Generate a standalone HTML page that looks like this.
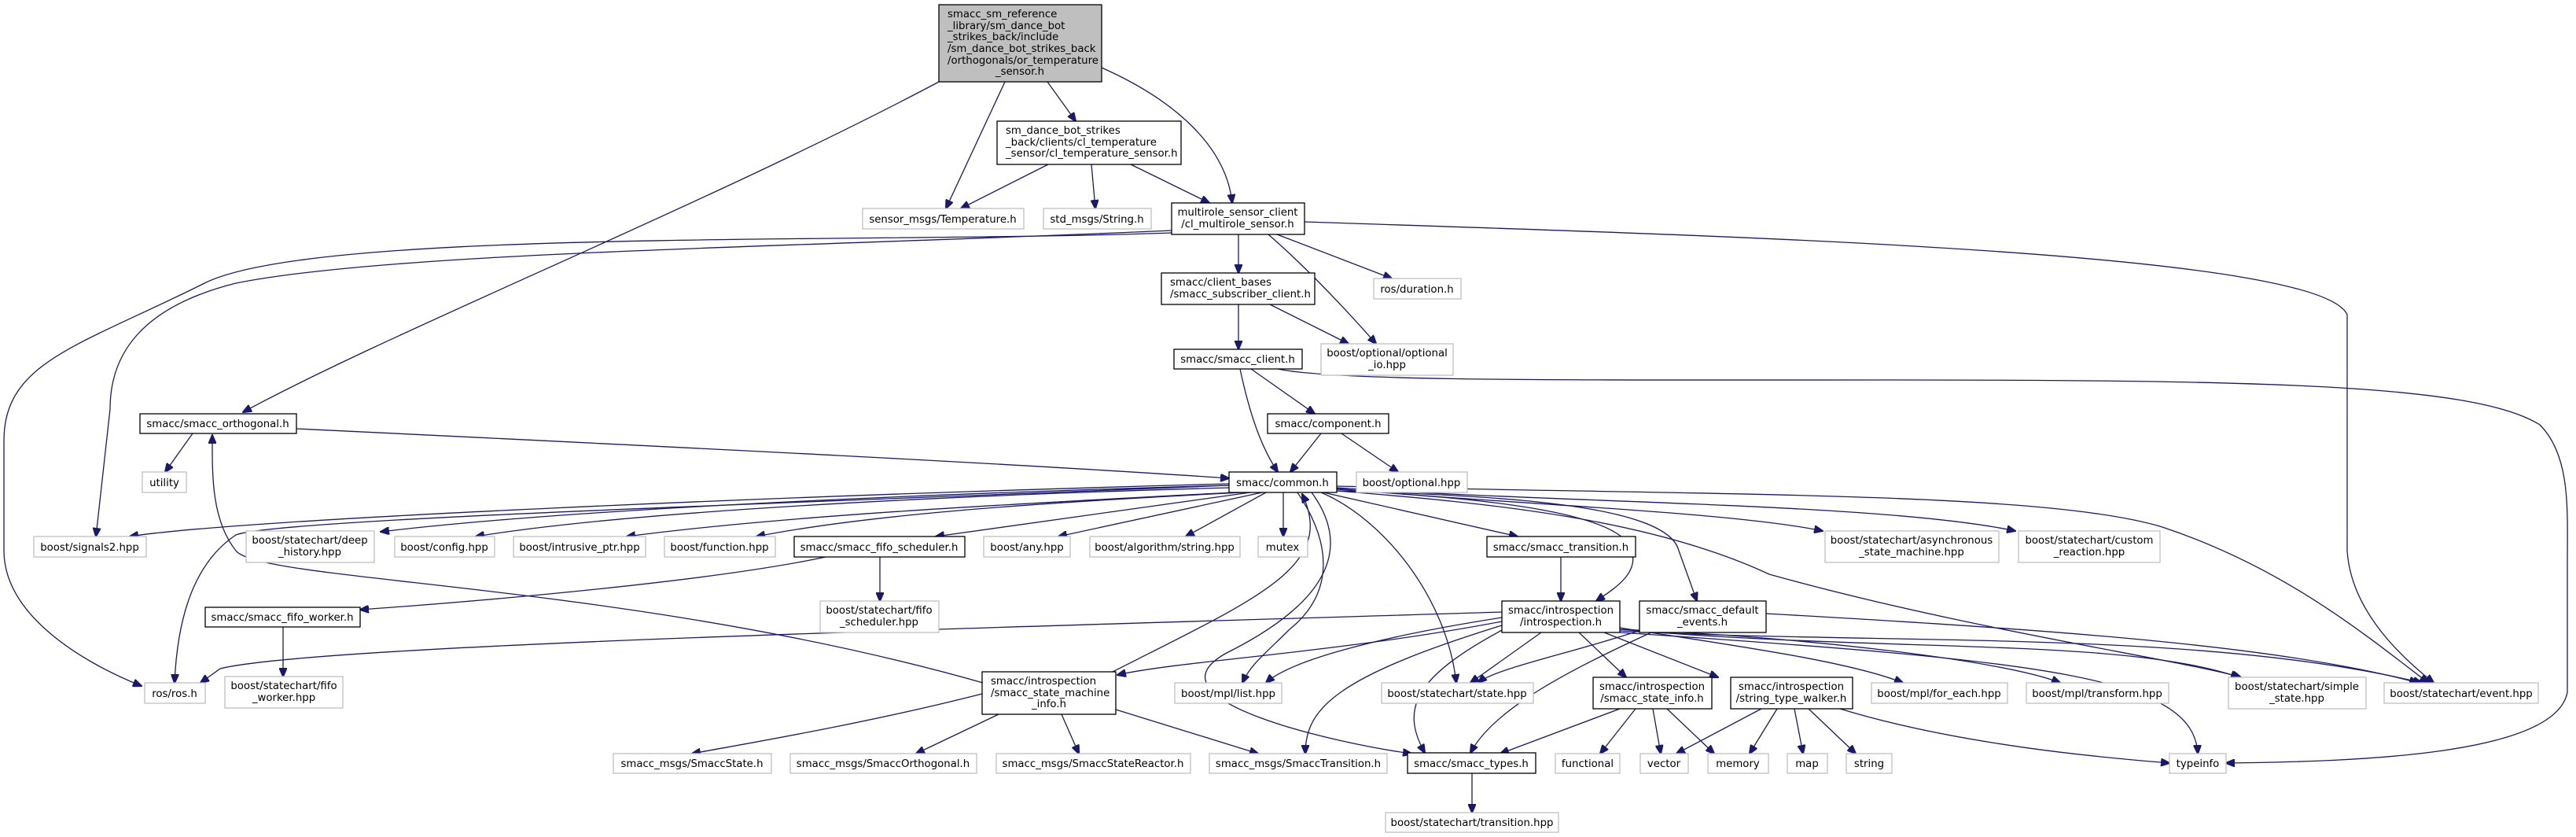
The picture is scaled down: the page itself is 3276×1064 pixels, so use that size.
<!DOCTYPE html>
<html><head><meta charset="utf-8"><style>
html,body{margin:0;padding:0;background:#fff;}
svg{display:block;}
text{font-family:"DejaVu Sans","Liberation Sans",sans-serif;font-size:13.3px;fill:#000;}
.b{fill:#fff;stroke:#000;stroke-width:1.3;}
.g{fill:#fff;stroke:#bfbfbf;stroke-width:1.3;}
.r{fill:#bfbfbf;stroke:#000;stroke-width:1.3;}
path{fill:none;stroke:#191970;stroke-width:1.3;}
</style></head><body>
<svg width="3276" height="1064" viewBox="0 0 3276 1064" xmlns="http://www.w3.org/2000/svg">
<defs><marker id="a" markerWidth="12" markerHeight="10" refX="11" refY="5" orient="auto" markerUnits="userSpaceOnUse"><path d="M0,0 L12,5 L0,10 Z" style="fill:#191970;stroke:#191970"/></marker></defs>
<g marker-end="url(#a)">
<path d="M1194,104 C900,260 500,420 309,524"/>
<path d="M1278,104 L1203,265"/>
<path d="M1332,104 L1368,154"/>
<path d="M1401,86 C1500,130 1560,190 1567,258"/>
<path d="M1333,209 L1222,265"/>
<path d="M1388,209 L1393,265"/>
<path d="M1438,209 L1538,258"/>
<path d="M1575,298 L1575,347"/>
<path d="M1613,298 C1650,330 1700,380 1750,437"/>
<path d="M1624,298 L1770,354"/>
<path d="M1575,387 L1575,444"/>
<path d="M1615,387 L1715,437"/>
<path d="M1577,469 C1590,530 1605,570 1625,600"/>
<path d="M1591,469 L1672,526"/>
<path d="M1625,469 C1700,485 2000,483 2400,483 C2900,483 3150,490 3230,540 C3270,580 3265,650 3265,720 L3265,880 C3250,960 3000,968 2831,970"/>
<path d="M1680,551 L1641,600"/>
<path d="M1706,551 L1778,600"/>
<path d="M245,551 L210,600"/>
<path d="M377,545 C900,570 1300,590 1563,608"/>
<path d="M1490,296 C1100,310 400,290 260,360 C100,440 5,460 5,560 L5,700 C5,780 100,840 180,872"/>
<path d="M1490,293 C1000,315 500,320 300,360 C180,390 140,450 140,520 L122,682"/>
<path d="M1659,282 C2200,300 2950,320 2985,400 L2985,700 C2990,780 3060,840 3095,868"/>
<path d="M1563,615 C1000,630 300,660 165,682"/>
<path d="M1563,617 C1100,630 700,650 484,676"/>
<path d="M1563,620 C1200,630 800,650 605,682"/>
<path d="M1570,626 C1300,640 1000,655 797,682"/>
<path d="M1580,626 C1300,640 1100,655 962,682"/>
<path d="M1590,626 L1190,682"/>
<path d="M1605,626 L1346,682"/>
<path d="M1610,626 L1508,682"/>
<path d="M1632,626 L1632,682"/>
<path d="M1683,626 L1930,682"/>
<path d="M1700,622 C1800,630 2060,640 2075,700 C2085,730 2050,750 2030,764"/>
<path d="M1700,624 C1900,630 2120,640 2135,700 L2158,764"/>
<path d="M1700,621 C1900,640 2200,650 2318,675"/>
<path d="M1700,620 C2000,640 2400,640 2563,675"/>
<path d="M1700,618 C2200,630 2600,625 2750,670 C2900,720 3000,800 3088,868"/>
<path d="M1700,624 C1900,640 2100,660 2250,730 C2500,800 2780,840 2850,861"/>
<path d="M1680,626 C1760,660 1840,760 1852,868"/>
<path d="M1650,626 C1700,700 1690,760 1640,800 C1610,830 1590,845 1580,868"/>
<path d="M1668,626 C1715,690 1700,760 1560,830 C1450,890 1700,945 1795,958"/>
<path d="M1563,617 C1000,640 350,660 300,680 C240,720 225,800 222,868"/>
<path d="M1415,854 C1600,760 1700,720 1656,628"/>
<path d="M1250,868 C800,740 330,740 300,700 C268,660 270,600 270,553"/>
<path d="M1249,882 C1100,920 950,945 880,958"/>
<path d="M1270,908 L1165,958"/>
<path d="M1350,908 L1372,958"/>
<path d="M1419,902 L1600,958"/>
<path d="M1050,708 C900,740 600,765 458,775"/>
<path d="M1119,708 L1119,764"/>
<path d="M360,797 L360,860"/>
<path d="M1985,708 L1985,764"/>
<path d="M1910,778 C1200,800 400,820 280,850 L255,868"/>
<path d="M1910,790 C1700,830 1500,840 1421,858"/>
<path d="M1910,785 C1750,810 1640,840 1610,868"/>
<path d="M1960,804 L1870,868"/>
<path d="M1910,795 C1700,860 1660,900 1660,958"/>
<path d="M1912,800 C1800,860 1780,900 1812,957"/>
<path d="M2008,804 L2068,861"/>
<path d="M2040,804 L2185,861"/>
<path d="M2060,798 C2200,820 2350,840 2420,868"/>
<path d="M2060,800 C2300,810 2550,840 2620,868"/>
<path d="M2060,800 C2400,830 2700,810 2848,861"/>
<path d="M2060,802 C2400,820 2800,800 3080,868"/>
<path d="M2060,804 C2600,840 2790,860 2795,958"/>
<path d="M2090,800 C2000,830 1900,850 1880,868"/>
<path d="M2100,804 C2000,850 1900,900 1870,957"/>
<path d="M2246,780 C2600,800 2900,820 3075,868"/>
<path d="M2060,901 L1908,958"/>
<path d="M2080,901 L2035,958"/>
<path d="M2102,901 L2112,958"/>
<path d="M2120,901 L2180,958"/>
<path d="M2240,901 L2132,958"/>
<path d="M2260,901 L2225,958"/>
<path d="M2282,901 L2293,958"/>
<path d="M2300,901 L2360,958"/>
<path d="M2340,901 C2500,950 2700,965 2759,970"/>
<path d="M1872,983 L1872,1033"/>
</g>
<rect class="r" x="1194" y="6" width="207" height="98"/>
<text x="1205" y="22">smacc_sm_reference</text><text x="1205" y="37">_library/sm_dance_bot</text><text x="1205" y="51">_strikes_back/include</text><text x="1205" y="66">/sm_dance_bot_strikes_back</text><text x="1205" y="81">/orthogonals/or_temperature</text><text x="1297" y="95" text-anchor="middle">_sensor.h</text>
<rect class="b" x="1268" y="154" width="234" height="55"/>
<text x="1279" y="170">sm_dance_bot_strikes</text><text x="1279" y="185">_back/clients/cl_temperature</text><text x="1279" y="199">_sensor/cl_temperature_sensor.h</text>
<rect class="g" x="1097" y="265" width="205" height="26"/><text x="1199" y="283" text-anchor="middle">sensor_msgs/Temperature.h</text>
<rect class="g" x="1327" y="265" width="137" height="26"/><text x="1395" y="283" text-anchor="middle">std_msgs/String.h</text>
<rect class="b" x="1490" y="258" width="169" height="40"/><text x="1574" y="274" text-anchor="middle">multirole_sensor_client</text><text x="1574" y="289" text-anchor="middle">/cl_multirole_sensor.h</text>
<rect class="b" x="1477" y="347" width="195" height="40"/><text x="1488" y="363">smacc/client_bases</text><text x="1488" y="378">/smacc_subscriber_client.h</text>
<rect class="g" x="1747" y="354" width="111" height="26"/><text x="1802" y="372" text-anchor="middle">ros/duration.h</text>
<rect class="g" x="1680" y="437" width="168" height="40"/><text x="1764" y="453" text-anchor="middle">boost/optional/optional</text><text x="1764" y="468" text-anchor="middle">_io.hpp</text>
<rect class="b" x="1493" y="444" width="163" height="25"/><text x="1574" y="461" text-anchor="middle">smacc/smacc_client.h</text>
<rect class="b" x="1612" y="526" width="154" height="25"/><text x="1689" y="543" text-anchor="middle">smacc/component.h</text>
<rect class="b" x="178" y="526" width="199" height="25"/><text x="277" y="543" text-anchor="middle">smacc/smacc_orthogonal.h</text>
<rect class="b" x="1563" y="600" width="137" height="26"/><text x="1631" y="618" text-anchor="middle">smacc/common.h</text>
<rect class="g" x="1725" y="600" width="141" height="26"/><text x="1795" y="618" text-anchor="middle">boost/optional.hpp</text>
<rect class="g" x="181" y="600" width="56" height="26"/><text x="209" y="618" text-anchor="middle">utility</text>
<rect class="g" x="43" y="682" width="143" height="26"/><text x="114" y="700" text-anchor="middle">boost/signals2.hpp</text>
<rect class="g" x="313" y="675" width="163" height="40"/><text x="394" y="691" text-anchor="middle">boost/statechart/deep</text><text x="394" y="706" text-anchor="middle">_history.hpp</text>
<rect class="g" x="502" y="682" width="127" height="26"/><text x="565" y="700" text-anchor="middle">boost/config.hpp</text>
<rect class="g" x="653" y="682" width="168" height="26"/><text x="737" y="700" text-anchor="middle">boost/intrusive_ptr.hpp</text>
<rect class="g" x="845" y="682" width="141" height="26"/><text x="915" y="700" text-anchor="middle">boost/function.hpp</text>
<rect class="b" x="1010" y="682" width="217" height="26"/><text x="1118" y="700" text-anchor="middle">smacc/smacc_fifo_scheduler.h</text>
<rect class="g" x="1251" y="682" width="110" height="26"/><text x="1306" y="700" text-anchor="middle">boost/any.hpp</text>
<rect class="g" x="1386" y="682" width="191" height="26"/><text x="1481" y="700" text-anchor="middle">boost/algorithm/string.hpp</text>
<rect class="g" x="1600" y="682" width="63" height="26"/><text x="1631" y="700" text-anchor="middle">mutex</text>
<rect class="b" x="1891" y="682" width="189" height="26"/><text x="1985" y="700" text-anchor="middle">smacc/smacc_transition.h</text>
<rect class="g" x="2321" y="675" width="221" height="40"/><text x="2431" y="691" text-anchor="middle">boost/statechart/asynchronous</text><text x="2431" y="706" text-anchor="middle">_state_machine.hpp</text>
<rect class="g" x="2567" y="675" width="180" height="40"/><text x="2657" y="691" text-anchor="middle">boost/statechart/custom</text><text x="2657" y="706" text-anchor="middle">_reaction.hpp</text>
<rect class="g" x="1043" y="764" width="151" height="40"/><text x="1118" y="780" text-anchor="middle">boost/statechart/fifo</text><text x="1118" y="795" text-anchor="middle">_scheduler.hpp</text>
<rect class="b" x="1910" y="764" width="150" height="40"/><text x="1985" y="780" text-anchor="middle">smacc/introspection</text><text x="1985" y="795" text-anchor="middle">/introspection.h</text>
<rect class="b" x="2085" y="764" width="161" height="40"/><text x="2165" y="780" text-anchor="middle">smacc/smacc_default</text><text x="2165" y="795" text-anchor="middle">_events.h</text>
<rect class="b" x="261" y="772" width="197" height="25"/><text x="359" y="789" text-anchor="middle">smacc/smacc_fifo_worker.h</text>
<rect class="g" x="286" y="860" width="150" height="40"/><text x="361" y="876" text-anchor="middle">boost/statechart/fifo</text><text x="361" y="891" text-anchor="middle">_worker.hpp</text>
<rect class="g" x="184" y="868" width="77" height="26"/><text x="222" y="886" text-anchor="middle">ros/ros.h</text>
<rect class="b" x="1249" y="854" width="170" height="54"/><text x="1260" y="870">smacc/introspection</text><text x="1260" y="885">/smacc_state_machine</text><text x="1334" y="899" text-anchor="middle">_info.h</text>
<rect class="g" x="1494" y="868" width="136" height="26"/><text x="1562" y="886" text-anchor="middle">boost/mpl/list.hpp</text>
<rect class="g" x="1757" y="868" width="193" height="26"/><text x="1853" y="886" text-anchor="middle">boost/statechart/state.hpp</text>
<rect class="b" x="2026" y="861" width="151" height="40"/><text x="2101" y="877" text-anchor="middle">smacc/introspection</text><text x="2101" y="892" text-anchor="middle">/smacc_state_info.h</text>
<rect class="b" x="2201" y="861" width="155" height="40"/><text x="2278" y="877" text-anchor="middle">smacc/introspection</text><text x="2278" y="892" text-anchor="middle">/string_type_walker.h</text>
<rect class="g" x="2380" y="868" width="173" height="26"/><text x="2466" y="886" text-anchor="middle">boost/mpl/for_each.hpp</text>
<rect class="g" x="2577" y="868" width="181" height="26"/><text x="2667" y="886" text-anchor="middle">boost/mpl/transform.hpp</text>
<rect class="g" x="2834" y="861" width="175" height="40"/><text x="2921" y="877" text-anchor="middle">boost/statechart/simple</text><text x="2921" y="892" text-anchor="middle">_state.hpp</text>
<rect class="g" x="3032" y="868" width="196" height="26"/><text x="3130" y="886" text-anchor="middle">boost/statechart/event.hpp</text>
<rect class="g" x="780" y="958" width="201" height="25"/><text x="880" y="975" text-anchor="middle">smacc_msgs/SmaccState.h</text>
<rect class="g" x="1005" y="958" width="237" height="25"/><text x="1123" y="975" text-anchor="middle">smacc_msgs/SmaccOrthogonal.h</text>
<rect class="g" x="1267" y="958" width="247" height="25"/><text x="1390" y="975" text-anchor="middle">smacc_msgs/SmaccStateReactor.h</text>
<rect class="g" x="1538" y="958" width="226" height="25"/><text x="1651" y="975" text-anchor="middle">smacc_msgs/SmaccTransition.h</text>
<rect class="b" x="1790" y="957" width="163" height="26"/><text x="1871" y="975" text-anchor="middle">smacc/smacc_types.h</text>
<rect class="g" x="1978" y="958" width="82" height="25"/><text x="2019" y="975" text-anchor="middle">functional</text>
<rect class="g" x="2086" y="958" width="61" height="25"/><text x="2116" y="975" text-anchor="middle">vector</text>
<rect class="g" x="2172" y="958" width="77" height="25"/><text x="2210" y="975" text-anchor="middle">memory</text>
<rect class="g" x="2273" y="958" width="51" height="25"/><text x="2298" y="975" text-anchor="middle">map</text>
<rect class="g" x="2348" y="958" width="58" height="25"/><text x="2377" y="975" text-anchor="middle">string</text>
<rect class="g" x="2759" y="958" width="72" height="25"/><text x="2795" y="975" text-anchor="middle">typeinfo</text>
<rect class="g" x="1762" y="1033" width="220" height="25"/><text x="1872" y="1050" text-anchor="middle">boost/statechart/transition.hpp</text>
</svg>
</body></html>
